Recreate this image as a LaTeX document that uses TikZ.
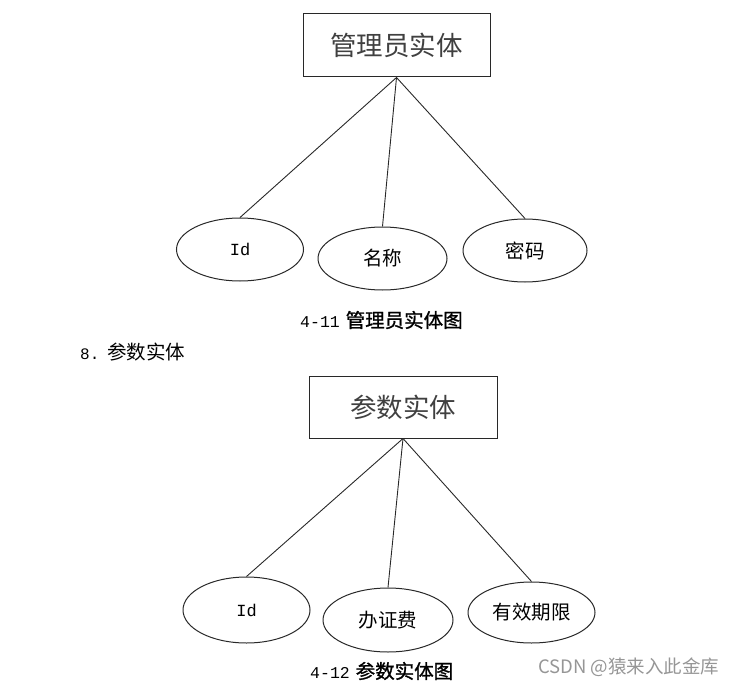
\documentclass[tikz,border=0pt]{standalone}
\usepackage{fontspec}
\newfontfamily\cjk{Noto Sans CJK SC}
\newfontfamily\cjkfb{Noto Sans CJK SC}[FakeBold=1.2]
\newfontfamily\mono{Liberation Mono}
\usetikzlibrary{shapes.geometric}
\definecolor{linecol}{RGB}{40,40,40}
\definecolor{wmgray}{RGB}{150,150,150}
\tikzset{
  entity/.style={draw=linecol, line width=1pt, rectangle, inner sep=0pt, font=\cjk\fontsize{26.5}{30}\selectfont, text=black!75},
  attr/.style={draw=linecol, line width=1pt, ellipse, inner sep=0pt, font=\cjk\fontsize{19.5}{22}\selectfont},
  link/.style={draw=linecol, line width=0.9pt},
  caption/.style={inner sep=0pt, font=\fontsize{19.5}{22}\selectfont},
}
\begin{document}
\begin{tikzpicture}[x=1pt,y=-1pt]
\useasboundingbox (0,0) rectangle (744,687);
% first diagram
\node[entity, minimum width=187pt, minimum height=63pt] (box1) at (396.5,45.5) {管理员实体};
\node[attr, minimum width=127pt, minimum height=63pt] (e11) at (240,249.5) {\mono\fontsize{17}{19}\selectfont Id};
\node[attr, minimum width=129pt, minimum height=63pt] (e12) at (382.5,258.5) {名称};
\node[attr, minimum width=124pt, minimum height=63pt] (e13) at (525,250.5) {密码};
\draw[link] (box1.south) -- (e11.north);
\draw[link] (box1.south) -- (e12.north);
\draw[link] (box1.south) -- (e13.north);
\node[caption, anchor=west] (cap1) at (300,320) {{\mono\fontsize{16.5}{18}\selectfont 4-11} {\cjkfb 管理员实体图}};
\node[caption, anchor=west] (sec8) at (80,352) {{\mono\fontsize{16}{18}\selectfont 8.} {\cjk 参数实体}};
% second diagram
\node[entity, minimum width=188pt, minimum height=62pt] (box2) at (403,407) {参数实体};
\node[attr, minimum width=127pt, minimum height=66pt] (e21) at (246.5,610) {\mono\fontsize{17}{19}\selectfont Id};
\node[attr, minimum width=130pt, minimum height=64pt] (e22) at (388,620) {办证费};
\node[attr, minimum width=127pt, minimum height=61pt] (e23) at (531.5,612.5) {有效期限};
\draw[link] (box2.south) -- (e21.north);
\draw[link] (box2.south) -- (e22.north);
\draw[link] (box2.south) -- (e23.north);
\node[caption, anchor=west] (cap2) at (310,671) {{\mono\fontsize{16.5}{18}\selectfont 4-12} {\cjkfb 参数实体图}};
% watermark
\node[inner sep=0pt, anchor=west, text=wmgray, font=\cjk\fontsize{18.5}{21}\selectfont] (wm) at (538,667) {CSDN @猿来入此金库};
\end{tikzpicture}
\end{document}
